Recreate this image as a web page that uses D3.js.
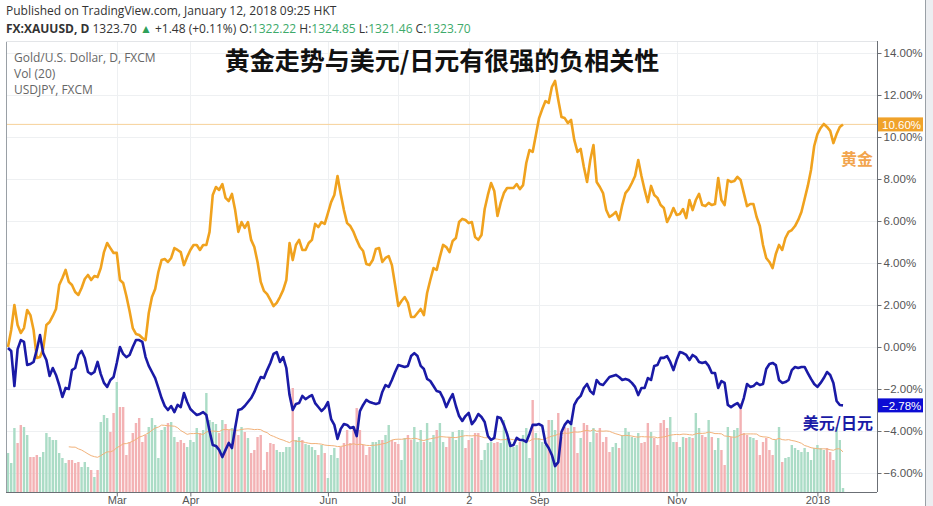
<!DOCTYPE html>
<html>
<head>
<meta charset="utf-8">
<script src="https://cdn.jsdelivr.net/npm/d3@7"></script>
<style>
  html, body { margin: 0; padding: 0; background: #fff; }
  .chart { width: 933px; height: 506px; }
  text { font-family: "Open Sans", "Noto Sans", sans-serif; }
</style>
</head>
<body>
<div class="chart"></div>
<script>
// gold (XAUUSD) change since start, %, one value per trading day from 2017-01-12
const gold = [
  0.00, 0.81, 2.00, 1.05, 0.67, 0.90, 1.76, 1.52, 0.81, -0.52,
  -0.48, -0.10, 1.05, 1.19, 1.48, 1.81, 2.95, 3.29, 3.67, 3.10,
  2.95, 2.62, 2.48, 2.81, 3.24, 3.43, 3.19, 3.38, 3.33, 3.76,
  4.52, 4.95, 4.71, 4.48, 4.48, 3.19, 3.05, 2.43, 1.71, 0.90,
  0.62, 0.57, 0.43, 0.33, 1.62, 2.38, 2.76, 3.57, 4.14, 4.19,
  4.05, 4.24, 4.71, 4.62, 4.52, 3.90, 4.29, 4.62, 4.86, 4.86,
  4.62, 4.86, 4.86, 5.48, 7.24, 7.62, 7.48, 7.76, 7.10, 6.95,
  7.29, 6.52, 5.48, 5.95, 5.67, 5.95, 5.10, 4.76, 4.05, 3.10,
  2.67, 2.52, 2.24, 1.95, 2.10, 2.38, 2.71, 3.19, 4.95, 4.14,
  4.86, 5.10, 4.62, 4.62, 4.95, 5.10, 5.86, 5.71, 5.95, 5.86,
  6.38, 6.90, 7.24, 8.14, 7.29, 6.52, 5.90, 5.76, 5.48, 5.10,
  4.76, 4.57, 3.95, 3.90, 4.14, 4.67, 4.71, 4.05, 4.24, 4.33,
  3.90, 2.95, 1.95, 2.19, 2.38, 2.10, 1.43, 1.43, 1.62, 1.81,
  1.52, 2.57, 3.19, 3.76, 3.67, 4.29, 4.86, 4.76, 4.52, 5.05,
  5.19, 5.95, 6.10, 6.05, 5.90, 5.95, 5.24, 5.10, 5.33, 6.57,
  7.24, 7.81, 7.43, 6.24, 6.86, 7.33, 7.57, 7.57, 7.57, 7.76,
  7.52, 7.71, 8.76, 9.38, 9.29, 10.10, 10.90, 11.33, 11.71, 11.62,
  12.38, 12.67, 11.76, 10.95, 10.90, 10.67, 10.81, 9.86, 9.29, 9.43,
  8.57, 7.86, 8.90, 9.62, 7.86, 7.62, 7.33, 6.52, 6.19, 6.29,
  6.43, 6.05, 6.76, 7.33, 7.52, 7.81, 8.14, 8.90, 8.14, 7.48,
  6.90, 7.67, 7.24, 7.10, 6.76, 6.62, 5.95, 6.24, 6.62, 6.29,
  6.33, 6.57, 6.14, 7.00, 6.52, 7.00, 7.29, 6.76, 6.71, 6.86,
  6.76, 6.81, 8.05, 7.00, 6.76, 7.95, 7.86, 7.90, 8.10, 7.95,
  7.33, 6.71, 6.81, 6.81, 6.19, 5.76, 4.86, 4.24, 4.05, 3.76,
  4.43, 4.86, 4.62, 5.19, 5.48, 5.57, 5.76, 6.05, 6.43, 7.05,
  7.67, 8.43, 9.57, 10.14, 10.43, 10.62, 10.48, 10.29, 9.71, 10.14,
  10.48, 10.60
];

// USDJPY change since start, %
const usdjpy = [
  -0.05, -0.19, -1.86, -0.10, 0.33, 0.24, -0.86, -0.81, -0.71, -0.14,
  0.57, -0.29, -0.62, -1.38, -1.00, -1.33, -1.81, -2.38, -1.95, -2.00,
  -1.10, -1.00, -0.38, -0.19, -0.52, -1.19, -1.29, -1.19, -0.71, -1.29,
  -1.71, -1.90, -1.57, -1.43, -0.76, 0.00, -0.33, -0.48, -0.38, 0.00,
  0.33, 0.33, 0.24, -0.48, -0.90, -1.19, -1.48, -1.95, -2.43, -2.81,
  -3.00, -2.81, -3.10, -2.76, -2.86, -2.19, -2.62, -2.95, -3.10, -3.24,
  -3.19, -3.10, -3.24, -4.00, -4.67, -4.71, -4.90, -5.24, -4.90, -4.57,
  -4.81, -3.86, -3.00, -2.95, -2.81, -2.62, -2.43, -2.14, -1.76, -1.43,
  -1.48, -1.10, -0.76, -0.33, -0.24, -0.71, -0.48, -1.00, -2.29, -3.00,
  -2.71, -2.67, -2.33, -2.48, -2.38, -2.29, -2.67, -2.86, -3.05, -2.90,
  -2.62, -3.43, -3.71, -4.38, -3.90, -3.67, -3.71, -3.86, -3.81, -4.24,
  -3.05, -2.76, -2.52, -2.62, -2.67, -2.71, -2.67, -2.14, -1.81, -1.90,
  -1.57, -1.19, -0.86, -0.90, -0.95, -0.90, -0.43, -0.29, -0.43, -0.90,
  -1.05, -1.52, -1.62, -1.86, -2.10, -2.14, -2.43, -2.86, -2.52, -2.24,
  -2.81, -3.29, -3.52, -3.29, -3.14, -3.67, -3.48, -3.19, -3.33, -3.57,
  -4.24, -4.43, -4.33, -3.33, -3.38, -3.71, -4.14, -4.71, -4.67, -4.33,
  -4.43, -4.43, -4.52, -4.14, -3.71, -3.71, -3.67, -3.76, -4.57, -4.81,
  -5.14, -5.67, -5.48, -4.05, -3.71, -3.52, -3.67, -2.76, -2.48, -2.33,
  -1.95, -1.76, -2.10, -2.24, -1.57, -1.76, -1.81, -1.62, -1.43, -1.38,
  -1.33, -1.43, -1.57, -1.52, -1.57, -1.71, -1.90, -2.29, -1.95, -1.95,
  -1.48, -1.57, -0.90, -0.86, -0.52, -0.52, -0.43, -0.71, -1.10, -0.62,
  -0.24, -0.29, -0.38, -0.62, -0.38, -0.48, -0.71, -0.76, -0.71, -0.90,
  -1.24, -1.24, -1.95, -1.62, -1.71, -2.76, -2.86, -2.76, -2.67, -2.90,
  -2.43, -1.76, -1.90, -1.86, -1.71, -1.81, -1.76, -1.05, -0.81, -0.76,
  -0.86, -1.57, -1.71, -1.67, -1.57, -1.10, -0.95, -1.00, -0.95, -0.95,
  -1.24, -1.52, -1.76, -1.90, -1.71, -1.48, -1.19, -1.33, -1.71, -2.57,
  -2.76, -2.78
];

// gold volume (relative units)
const volume = [
  39, 29, 64, 49, 67, 65, 57, 35, 35, 37,
  35, 40, 59, 55, 52, 52, 39, 34, 29, 32,
  32, 29, 30, 25, 30, 25, 22, 15, 22, 70,
  77, 74, 60, 79, 110, 85, 85, 37, 50, 59,
  69, 74, 50, 57, 65, 74, 67, 34, 62, 65,
  69, 70, 55, 50, 52, 49, 45, 52, 50, 64,
  59, 62, 99, 72, 70, 68, 59, 72, 68, 62,
  64, 62, 57, 65, 60, 54, 39, 42, 55, 57,
  22, 40, 49, 48, 42, 40, 40, 45, 45, 104,
  52, 55, 52, 48, 47, 45, 42, 37, 47, 39,
  14, 37, 44, 34, 45, 49, 62, 49, 64, 84,
  62, 47, 37, 45, 50, 50, 52, 52, 57, 67,
  52, 50, 48, 32, 54, 57, 52, 65, 50, 62,
  50, 69, 50, 57, 62, 69, 50, 45, 55, 60,
  52, 62, 62, 44, 52, 54, 59, 59, 32, 42,
  49, 50, 49, 50, 49, 72, 54, 50, 45, 47,
  50, 57, 64, 34, 92, 59, 54, 50, 47, 72,
  72, 62, 79, 55, 65, 64, 69, 65, 39, 54,
  69, 67, 50, 64, 59, 64, 50, 55, 40, 45,
  49, 44, 57, 64, 60, 55, 54, 59, 49, 50,
  69, 60, 54, 47, 69, 72, 64, 75, 50, 50,
  45, 55, 54, 55, 54, 79, 64, 57, 55, 72,
  55, 42, 54, 42, 27, 65, 55, 62, 64, 89,
  59, 57, 55, 54, 52, 37, 50, 54, 42, 37,
  52, 65, 30, 34, 35, 47, 44, 42, 40, 44,
  40, 32, 44, 47, 44, 42, 44, 40, 32, 65,
  52, 4
];

const firstDay = '2017-01-12';
const lastDay = '2018-01-12';

const tickDays = ['2017-03-01', '2017-04-03', '2017-06-01', '2017-07-03', '2017-08-02', '2017-09-01', '2017-11-01', '2018-01-02'];
const tickLabels = ['Mar', 'Apr', 'Jun', 'Jul', '2', 'Sep', 'Nov', '2018'];
const yTicks = [-6, -4, -2, 0, 2, 4, 6, 8, 10, 12, 14];

const config = {
  width: 933,
  height: 506,
  left: 6,
  right: 877,
  top: 41,
  bottom: 492
};

const chart = {};
const parse = d3.timeParse('%Y-%m-%d');
const fmtDay = d3.timeFormat('%Y-%m-%d');

// trading days (weekdays) between first and last day
const days = d3.timeDay.range(parse(firstDay), d3.timeDay.offset(parse(lastDay), 1))
  .filter(d => d.getDay() !== 0 && d.getDay() !== 6)
  .map(fmtDay);

chart.$svg = d3.select('.chart')
  .append('svg')
  .attr('width', config.width)
  .attr('height', config.height)
  .attr('viewBox', `0 0 ${config.width} ${config.height}`);

chart.$svg.append('rect')
  .attr('x', 925).attr('y', 0)
  .attr('width', 8).attr('height', config.height)
  .attr('fill', '#eceef1');
chart.$svg.append('line')
  .attr('x1', 925.5).attr('x2', 925.5)
  .attr('y1', 0).attr('y2', config.height)
  .attr('stroke', '#9aa0a6');

chart.xScale = d3.scaleLinear()
  .domain([0, days.length - 1])
  .range([8, 843]);

chart.yScale = d3.scaleLinear()
  .domain([-6, 14])
  .range([473, 53]);

chart.volScale = d3.scaleLinear()
  .domain([0, 120])
  .range([config.bottom, config.bottom - 120]);

const tickIdx = tickDays.map(d => days.indexOf(d));

// grid
const $grid = chart.$svg.append('g');
$grid.selectAll('.hgrid')
  .data(yTicks)
  .enter()
  .append('line')
  .attr('x1', config.left).attr('x2', config.right)
  .attr('y1', d => Math.round(chart.yScale(d)) + 0.5)
  .attr('y2', d => Math.round(chart.yScale(d)) + 0.5)
  .attr('stroke', '#eef0f2');
$grid.selectAll('.vgrid')
  .data(tickIdx)
  .enter()
  .append('line')
  .attr('x1', d => Math.round(chart.xScale(d)) + 0.5)
  .attr('x2', d => Math.round(chart.xScale(d)) + 0.5)
  .attr('y1', config.top).attr('y2', config.bottom)
  .attr('stroke', '#eef0f2');

// volume bars, coloured by the day's gold move
chart.$svg.append('g')
  .selectAll('rect')
  .data(volume)
  .enter()
  .append('rect')
  .attr('x', (d, i) => chart.xScale(i) - 1.2)
  .attr('width', 2.4)
  .attr('y', d => chart.volScale(d))
  .attr('height', d => config.bottom - chart.volScale(d))
  .attr('fill', (d, i) => (i === 0 || gold[i] >= gold[i - 1]) ? '#abdcc6' : '#f3b2b4');

// volume moving average (20)
const volMa = volume.map((d, i) => i < 19 ? null : d3.mean(volume.slice(i - 19, i + 1)));
chart.$svg.append('path')
  .datum(volMa)
  .attr('fill', 'none')
  .attr('stroke', '#f2b27a')
  .attr('stroke-width', 1)
  .attr('d', d3.line()
    .defined(d => d !== null)
    .x((d, i) => chart.xScale(i))
    .y(d => chart.volScale(d)));

// last gold price line
chart.$svg.append('line')
  .attr('x1', config.left).attr('x2', config.right)
  .attr('y1', chart.yScale(gold[gold.length - 1]))
  .attr('y2', chart.yScale(gold[gold.length - 1]))
  .attr('stroke', '#f6d29a')
  .attr('stroke-width', 1);

const line = d3.line()
  .x((d, i) => chart.xScale(i))
  .y(d => chart.yScale(d));

chart.$svg.append('path')
  .datum(gold)
  .attr('fill', 'none')
  .attr('stroke', '#f0a21e')
  .attr('stroke-width', 2.6)
  .attr('stroke-linejoin', 'round')
  .attr('d', line);

chart.$svg.append('path')
  .datum(usdjpy)
  .attr('fill', 'none')
  .attr('stroke', '#1a1aa6')
  .attr('stroke-width', 2.6)
  .attr('stroke-linejoin', 'round')
  .attr('d', line);

// frame
chart.$svg.append('line')
  .attr('x1', config.left + 0.5).attr('x2', config.left + 0.5)
  .attr('y1', config.top).attr('y2', config.bottom)
  .attr('stroke', '#9aa0a6');
chart.$svg.append('line')
  .attr('x1', config.left).attr('x2', config.right)
  .attr('y1', config.top + 0.5).attr('y2', config.top + 0.5)
  .attr('stroke', '#e3e5e8');

// right axis
const yAxis = d3.axisRight(chart.yScale)
  .tickValues(yTicks)
  .tickSize(4)
  .tickFormat(d => d3.format('.2f')(d) + '%');
chart.$yAxis = chart.$svg.append('g')
  .attr('transform', `translate(${config.right + 0.5},0)`)
  .call(yAxis);
chart.$yAxis.select('.domain')
  .attr('d', `M0,${config.top}V${config.bottom}`)
  .attr('stroke', '#6b6f75');
chart.$yAxis.selectAll('.tick line').attr('stroke', '#6b6f75');
chart.$yAxis.selectAll('.tick text')
  .attr('x', 6)
  .attr('fill', '#555')
  .style('font-family', '"Liberation Sans", Arial, sans-serif')
  .style('font-size', '11.5px');

// bottom axis
const xAxis = d3.axisBottom(chart.xScale)
  .tickValues(tickIdx)
  .tickSize(4)
  .tickFormat((d, i) => tickLabels[i]);
chart.$xAxis = chart.$svg.append('g')
  .attr('transform', `translate(0,${config.bottom + 0.5})`)
  .call(xAxis);
chart.$xAxis.select('.domain')
  .attr('d', `M${config.left},0H${config.right}`)
  .attr('stroke', '#6b6f75');
chart.$xAxis.selectAll('.tick line').attr('stroke', '#6b6f75');
chart.$xAxis.selectAll('.tick text')
  .attr('y', 4)
  .attr('fill', '#555')
  .style('font-family', '"Liberation Sans", Arial, sans-serif')
  .style('font-size', '11px');

// last value tags
function tag(value, color) {
  const y = chart.yScale(value);
  chart.$svg.append('rect')
    .attr('x', config.right + 1).attr('y', y - 7)
    .attr('width', 45).attr('height', 14)
    .attr('fill', color);
  chart.$svg.append('text')
    .attr('x', config.right + 5).attr('y', y + 4.5)
    .attr('fill', '#fff')
    .style('font-family', '"Liberation Sans", Arial, sans-serif')
    .style('font-size', '11.5px')
    .text(d3.format('.2f')(value) + '%');
}
tag(gold[gold.length - 1], '#f0a22a');
tag(usdjpy[usdjpy.length - 1], '#0c0cd4');

// series labels
chart.$svg.append('text')
  .attr('x', 873).attr('y', 165)
  .attr('text-anchor', 'end')
  .attr('fill', '#f2a54e')
  .style('font-family', '"Noto Sans CJK SC", sans-serif')
  .style('font-weight', 700)
  .style('font-size', '16px')
  .text('黄金');
chart.$svg.append('text')
  .attr('x', 873).attr('y', 429)
  .attr('text-anchor', 'end')
  .attr('fill', '#1a1aa6')
  .style('font-family', '"Noto Sans CJK SC", sans-serif')
  .style('font-weight', 700)
  .style('font-size', '16px')
  .text('美元/日元');

// title
chart.$svg.append('text')
  .attr('x', 442).attr('y', 70)
  .attr('text-anchor', 'middle')
  .attr('fill', '#111')
  .style('font-family', '"Noto Sans CJK SC", sans-serif')
  .style('font-weight', 700)
  .style('font-size', '25px')
  .text('黄金走势与美元/日元有很强的负相关性');

// legend inside pane
const legend = ['Gold/U.S. Dollar, D, FXCM', 'Vol (20)', 'USDJPY, FXCM'];
chart.$svg.append('g')
  .selectAll('text')
  .data(legend)
  .enter()
  .append('text')
  .attr('x', 14)
  .attr('y', (d, i) => 62 + i * 16)
  .attr('fill', '#666')
  .style('font-size', '12px')
  .text(d => d);

// header
chart.$svg.append('text')
  .attr('x', 6).attr('y', 15)
  .attr('fill', '#333')
  .style('font-size', '12px')
  .text('Published on TradingView.com, January 12, 2018 09:25 HKT');

const $head = chart.$svg.append('text')
  .attr('x', 6).attr('y', 33)
  .attr('fill', '#333')
  .style('font-size', '12px');
$head.append('tspan').style('font-weight', 700).text('FX:XAUUSD, D');
$head.append('tspan').text('  1323.70 ');
$head.append('tspan').attr('fill', '#2ea05a').text('▲');
$head.append('tspan').text(' +1.48 (+0.11%) O:');
$head.append('tspan').attr('fill', '#3daa6a').text('1322.22');
$head.append('tspan').text(' H:');
$head.append('tspan').attr('fill', '#3daa6a').text('1324.85');
$head.append('tspan').text(' L:');
$head.append('tspan').attr('fill', '#3daa6a').text('1321.46');
$head.append('tspan').text(' C:');
$head.append('tspan').attr('fill', '#3daa6a').text('1323.70');
</script>
</body>
</html>
